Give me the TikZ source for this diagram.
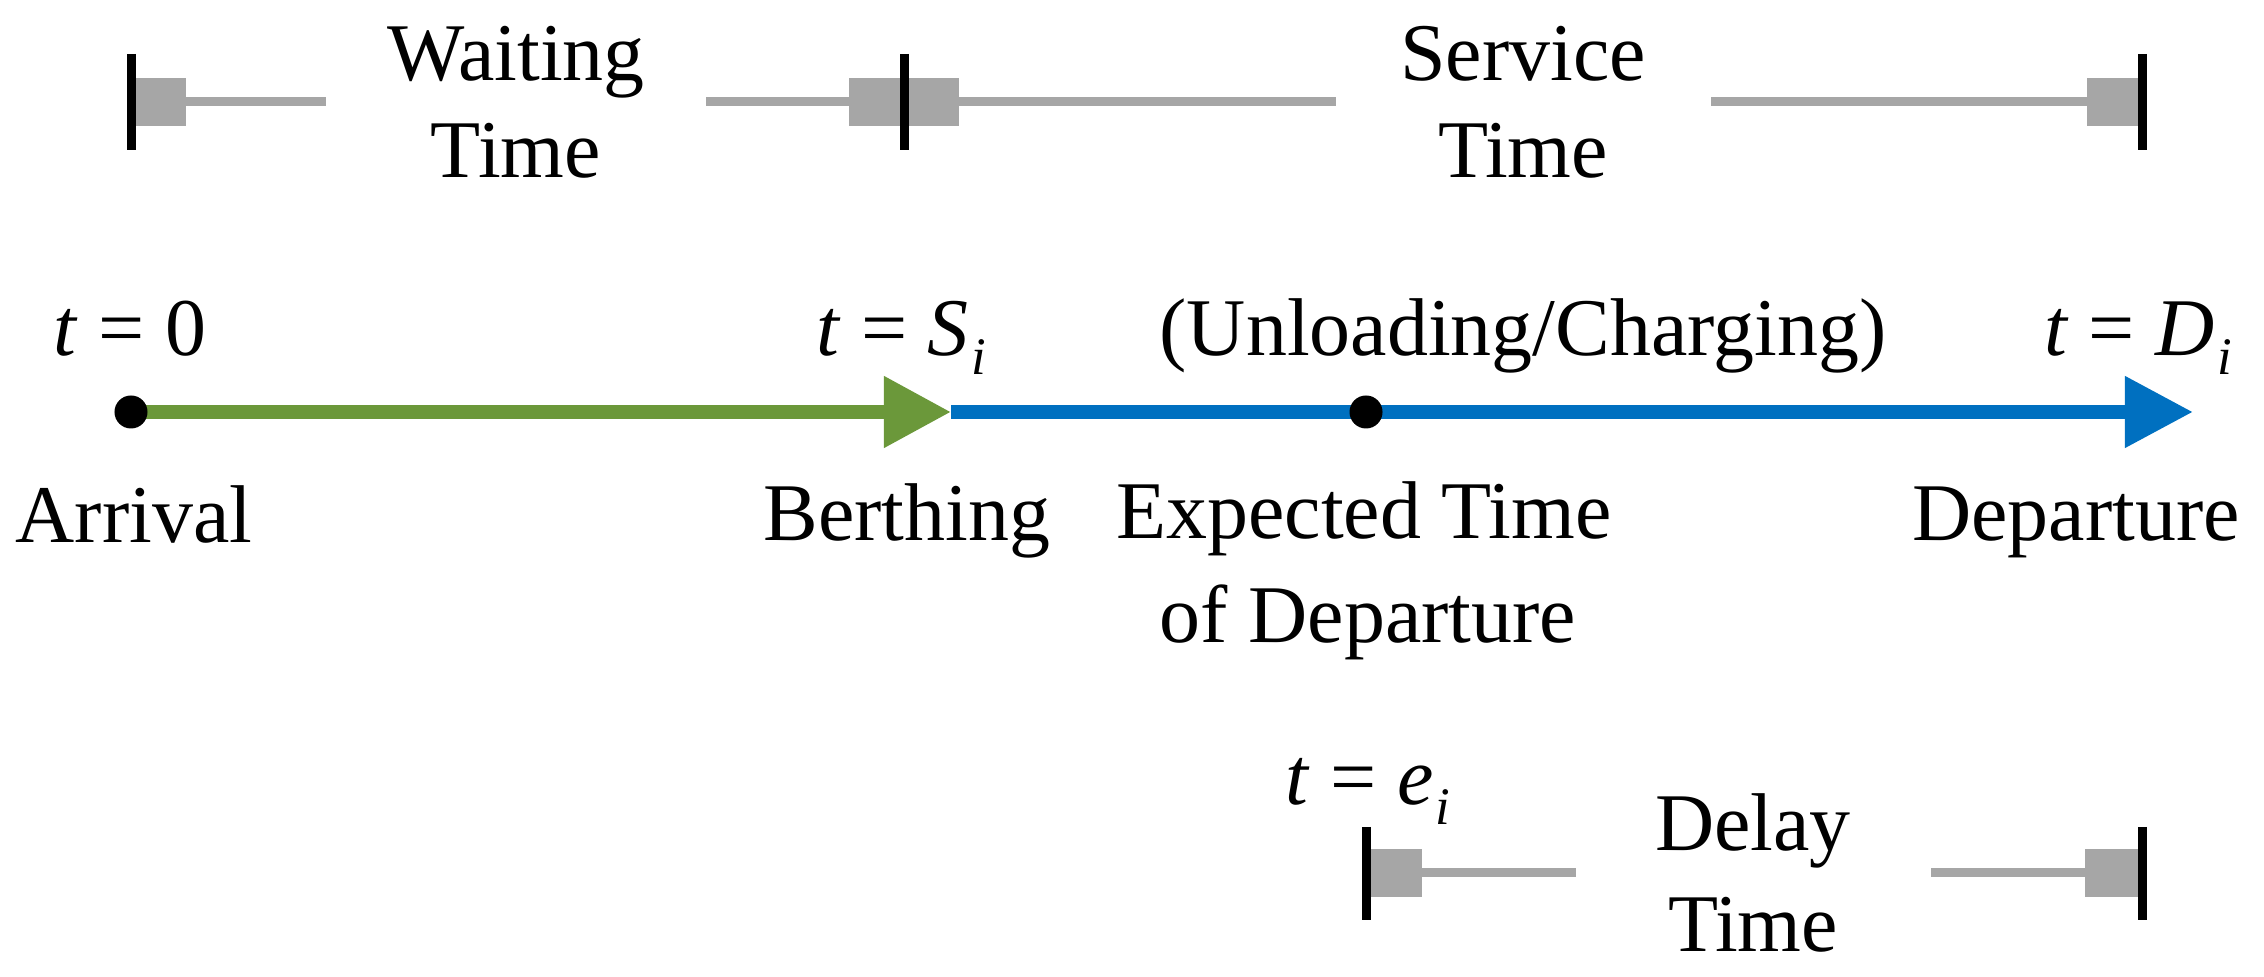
\documentclass[tikz,border=0pt]{standalone}
\usepackage{fontspec}
\setmainfont{Liberation Serif}
\usetikzlibrary{arrows.meta}
\definecolor{axgreen}{RGB}{107,152,58}
\definecolor{axblue}{RGB}{0,112,192}
\definecolor{brgray}{RGB}{166,166,166}
\newcommand{\mysub}[1]{\kern0.03em\raisebox{-0.19cm}{\fontsize{15}{15}\selectfont\itshape #1}}
\begin{document}
\begin{tikzpicture}[x=0.01cm,y=-0.01cm,
  font=\fontsize{23.3}{28}\selectfont,
  lbl/.style={inner sep=0pt,anchor=base},
  barline/.style={black,line width=0.09cm},
  gline/.style={brgray,line width=0.09cm},
  sqbox/.style={fill=brgray},
  dotnode/.style={circle,fill=black,inner sep=0pt,minimum size=0.33cm},
  axis/.style={line width=0.14cm}]
\useasboundingbox (0,0) rectangle (2264,977);

% ---- top brackets ----
\coordinate (tA) at (131.5,102);
\coordinate (tB) at (904,102);
\coordinate (tC) at (2142,102);
\fill[sqbox] (131.5,78) rectangle (186,126);
\draw[gline] (186,101.5) coordinate (wl1) -- (326,101.5) coordinate (wl2);
\draw[gline] (706,101.5) coordinate (wr1) -- (849,101.5) coordinate (wr2);
\fill[sqbox] (849,78) rectangle (959,126);
\draw[gline] (959,101.5) coordinate (sl1) -- (1336,101.5) coordinate (sl2);
\draw[gline] (1711,101.5) coordinate (sr1) -- (2087,101.5) coordinate (sr2);
\fill[sqbox] (2087,78) rectangle (2142,126);
\draw[barline] (131.5,54) -- (131.5,150);
\draw[barline] (904,54) -- (904,150);
\draw[barline] (2142,54) -- (2142,150);
\node[lbl] (wait1) at (516,81) {Waiting};
\node[lbl] (wait2) at (516,178) {Time};
\node[lbl] (serv1) at (1523,81) {Service};
\node[lbl] (serv2) at (1523,178) {Time};

% ---- main axis ----
\coordinate (arr) at (131,412);
\coordinate (berth) at (951,412);
\coordinate (etd) at (1366,412);
\coordinate (dep) at (2193,412);
\draw[axis,axblue,-{Triangle[length=0.68cm,width=0.68cm]}] (berth) -- (dep);
\draw[axis,axgreen,-{Triangle[length=0.67cm,width=0.68cm]}] (arr) -- (berth);
\node[dotnode] (arrdot) at (arr) {};
\node[dotnode] (etddot) at (etd) {};

\node[lbl] (t0) at (130,356) {\textit{t} = 0};
\node[lbl] (tS) at (901,356) {\textit{t} = \textit{S}\mysub{i}};
\node[lbl] (ul) at (1523,356) {(Unloading/Charging)};
\node[lbl] (tD) at (2138,356) {\textit{t} = \textit{D}\mysub{i}};

\node[lbl] (arrl) at (134,543) {Arrival};
\node[lbl] (berl) at (907,541) {Berthing};
\node[lbl] (etl1) at (1364,539) {Expected Time};
\node[lbl] (etl2) at (1368,643) {of Departure};
\node[lbl] (depl) at (2076,541) {Departure};

% ---- bottom bracket ----
\fill[sqbox] (1366,849) rectangle (1422,897);
\draw[gline] (1422,873) coordinate (dl1) -- (1576,873) coordinate (dl2);
\draw[gline] (1931,873) coordinate (dr1) -- (2085,873) coordinate (dr2);
\fill[sqbox] (2085,849) rectangle (2142,897);
\draw[barline] (1366,827) -- (1366,920);
\draw[barline] (2142,827) -- (2142,920);
\node[lbl] (te) at (1368,805) {\textit{t} = \textit{e}\mysub{i}};
\node[lbl] (del1) at (1753,851) {Delay};
\node[lbl] (del2) at (1753,952) {Time};
\end{tikzpicture}
\end{document}
